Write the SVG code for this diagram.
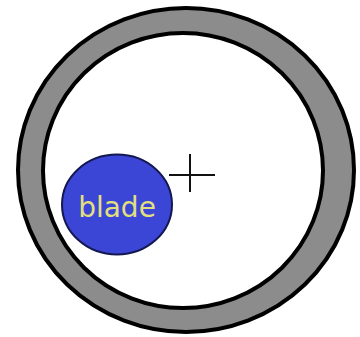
<svg xmlns="http://www.w3.org/2000/svg" width="360" height="337" viewBox="0 0 360 337">
<style>
.ring{stroke:#000;stroke-width:4}
.cross{stroke:#111;stroke-width:2;fill:none}
.label{font-family:"DejaVu Sans",Verdana,sans-serif;font-size:28px;fill:#e2e07e;text-anchor:middle}
</style>
<rect width="360" height="337" fill="#fff"/>
<g id="tube">
<ellipse class="ring" cx="186" cy="170" rx="168" ry="162" fill="#8c8c8c"/>
<ellipse class="ring" cx="183" cy="170.5" rx="140" ry="137.5" fill="#fff"/>
</g>
<g id="center">
<line class="cross" x1="190" y1="154" x2="190" y2="192"/>
<line class="cross" x1="169" y1="175" x2="215" y2="175"/>
</g>
<g id="blade">
<ellipse cx="117" cy="204.5" rx="55" ry="50" fill="#3b45d6" stroke="#141850" stroke-width="2"/>
<text class="label" x="117" y="217">blade</text>
</g>
</svg>
